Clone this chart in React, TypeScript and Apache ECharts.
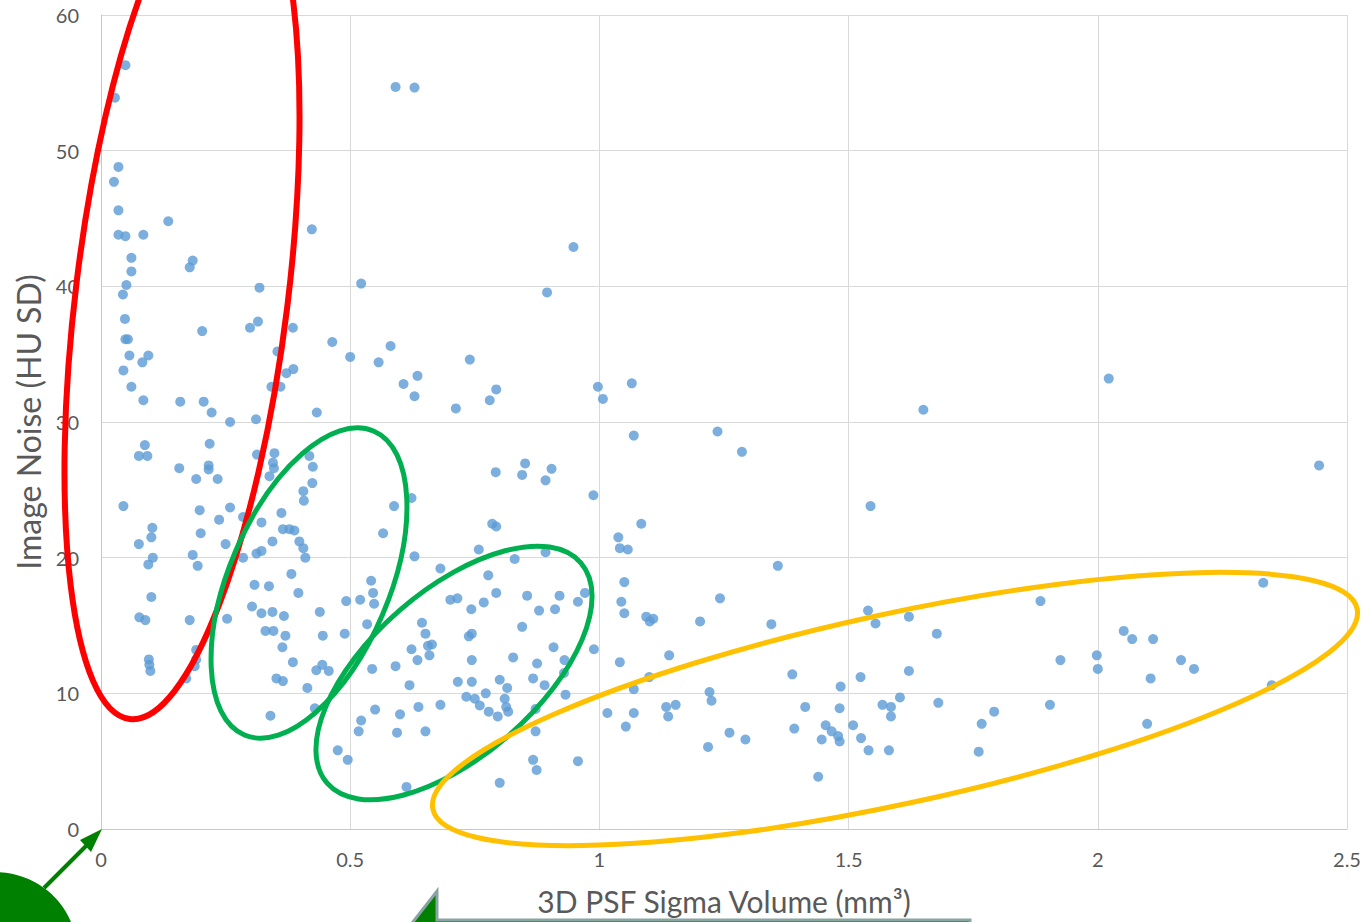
import React, { useEffect, useRef } from "react";
import * as echarts from "echarts";

// 3D PSF sigma volume (mm³) per measurement
const sigmaVolume: number[] = [
  0.049, 0.028, 0.035, 0.026, 0.035, 0.035, 0.049, 0.085, 0.135, 0.061,
  0.061, 0.178, 0.184, 0.051, 0.044, 0.318, 0.423,
  0.048, 0.049, 0.054, 0.203, 0.299, 0.315, 0.385, 0.057, 0.083, 0.095,
  0.045, 0.061, 0.085, 0.159, 0.206, 0.222, 0.259, 0.311, 0.354, 0.372,
  0.386, 0.342, 0.36, 0.464, 0.5, 0.433, 0.045, 0.076, 0.093, 0.088,
  0.157, 0.191, 0.216, 0.216, 0.218, 0.234, 0.313, 0.348, 0.345, 0.347,
  0.338, 0.418, 0.425, 0.424, 0.406, 0.407, 0.198, 0.259, 0.237, 0.285,
  0.322, 0.362, 0.365, 0.378, 0.388, 0.103, 0.101, 0.076, 0.2, 0.25,
  0.344, 0.398, 0.406, 0.41, 0.312, 0.322, 0.285, 0.184, 0.194, 0.104,
  0.095, 0.382,
  0.101, 0.077, 0.089, 0.178, 0.253, 0.096, 0.097, 0.099, 0.191, 0.191,
  0.188, 0.171, 0.308, 0.337, 0.396, 0.303, 0.322, 0.344, 0.367, 0.439,
  0.492, 0.33, 0.346, 0.37, 0.445, 0.489, 0.364, 0.385, 0.432, 0.444,
  0.457, 0.352, 0.365, 0.414, 0.34, 0.429, 0.475, 0.495,
  0.591, 0.629, 0.948, 0.522, 0.895, 0.557, 0.581, 0.74, 0.607, 0.635,
  0.629, 0.712, 0.78, 0.793, 0.997, 1.007, 1.065, 1.069, 0.792, 0.851,
  0.845, 0.904, 0.892, 0.988, 0.623, 0.588, 0.566, 0.785, 0.793, 1.084,
  1.038, 1.041, 1.057, 0.629, 0.681, 0.758, 0.83, 0.892, 0.777, 0.542,
  1.05,
  0.546, 0.548, 0.52, 0.534, 0.544, 0.591, 0.619, 0.623, 0.635, 0.644,
  0.651, 0.656, 0.664, 0.659, 0.701, 0.715, 0.743, 0.768, 0.793, 0.738,
  0.744, 0.744, 0.716, 0.744, 0.772, 0.733, 0.75, 0.76, 0.8, 0.815,
  0.778, 0.796, 0.81, 0.813, 0.817, 0.827, 0.845, 0.855, 0.879, 0.911,
  0.92, 0.957, 0.971, 0.908, 0.875, 0.867, 0.89, 0.93, 0.929, 0.932,
  0.872, 0.872, 0.867, 0.874, 0.8, 0.957, 0.613, 0.55, 0.522, 0.517,
  0.6, 0.594, 0.637, 0.651, 0.681, 1.044, 1.05, 1.094, 1.108, 1.101,
  0.989, 1.041, 1.14, 1.1, 1.069, 1.016, 1.069, 1.053, 1.134, 1.153,
  1.138,
  1.237, 1.286, 1.65, 1.544, 1.358,
  1.242, 1.202, 1.345, 1.539, 1.554, 1.621, 1.677, 1.387, 1.484, 1.524,
  1.621, 1.221, 1.225, 1.413, 1.482, 1.603, 1.568, 1.585, 1.585, 1.68,
  1.792, 1.767, 1.761, 1.261, 1.293, 1.218, 1.391, 1.454, 1.446, 1.466,
  1.479, 1.482, 1.509, 1.525, 1.54, 1.581, 1.439,
  2.022, 2.444, 2.332, 1.885, 2.052, 2.069, 2.111, 1.925, 1.998, 2.0,
  2.167, 2.193, 2.106, 2.349, 1.904, 2.099,
];

// Image noise (HU SD) for the same measurements
const imageNoise: number[] = [
  56.3, 53.9, 48.8, 47.7, 45.6, 43.8, 43.7, 43.8, 44.8, 42.1,
  41.1, 41.4, 41.9, 40.1, 39.4, 39.9, 44.2,
  37.6, 36.1, 36.1, 36.7, 36.95, 37.4, 36.95, 34.9, 34.4, 34.9,
  33.8, 32.6, 31.6, 31.5, 31.5, 30.7, 30.0, 30.2, 35.2, 33.6,
  33.9, 32.6, 32.6, 35.9, 34.8, 30.7, 23.8, 27.5, 27.5, 28.3,
  26.6, 25.8, 26.8, 26.5, 28.4, 25.8, 27.6, 27.7, 27.0, 26.6,
  26.0, 27.5, 26.7, 25.5, 24.9, 24.2, 23.5, 23.7, 22.8, 23.0,
  22.6, 23.3, 22.1, 22.1, 22.0, 22.2, 21.5, 21.0, 21.8, 21.0,
  21.2, 21.2, 20.7, 20.0, 20.3, 20.5, 20.0, 20.2, 19.4, 20.0,
  19.5, 18.8,
  17.1, 15.6, 15.4, 15.4, 15.5, 12.5, 12.1, 11.65, 13.2, 12.5,
  12.0, 11.1, 18.0, 17.9, 17.4, 16.4, 15.9, 16.0, 15.7, 16.0,
  16.8, 14.6, 14.6, 14.25, 14.25, 14.4, 13.4, 12.3, 11.7, 12.1,
  11.65, 11.1, 10.9, 10.4, 8.35, 8.9, 5.8, 5.1,
  54.7, 54.65, 42.9, 40.2, 39.55, 34.4, 35.6, 34.6, 32.8, 33.4,
  31.9, 31.0, 31.6, 32.4, 32.6, 31.7, 32.85, 29.0, 26.3, 26.95,
  26.1, 26.55, 25.7, 24.6, 24.4, 23.8, 21.8, 22.5, 22.3, 22.5,
  21.5, 20.7, 20.6, 20.1, 19.2, 20.6, 19.9, 20.4, 18.7, 18.3,
  18.2,
  17.4, 16.6, 16.9, 15.1, 11.8, 12.0, 10.6, 13.25, 12.45, 15.2,
  14.4, 13.5, 13.6, 12.8, 16.9, 17.0, 16.2, 16.7, 17.4, 14.2,
  14.4, 12.45, 10.85, 10.85, 10.0, 9.75, 9.6, 9.1, 11.0, 10.4,
  8.65, 8.3, 9.6, 9.0, 8.65, 12.65, 14.9, 17.2, 16.1, 16.2,
  17.2, 16.75, 17.4, 13.4, 12.2, 11.1, 10.6, 12.45, 11.5, 9.9,
  8.85, 7.2, 5.1, 4.35, 3.4, 5.0, 3.1, 8.8, 8.0, 7.2,
  8.45, 7.1, 9.0, 7.2, 9.15, 16.75, 15.9, 15.65, 15.5, 15.3,
  13.25, 12.3, 12.8, 11.2, 10.3, 8.55, 8.55, 7.55, 9.0, 9.15,
  8.3,
  29.3, 27.8, 30.9, 23.8, 19.4,
  17.0, 15.3, 15.1, 16.1, 15.15, 15.65, 14.4, 11.4, 10.5, 11.2,
  11.65, 10.1, 9.45, 9.0, 8.9, 9.7, 9.15, 9.0, 8.3, 9.3,
  8.65, 7.75, 5.7, 7.1, 6.6, 6.05, 7.4, 7.65, 6.6, 7.2,
  6.85, 6.45, 7.65, 6.7, 5.8, 5.8, 3.85,
  33.2, 26.8, 18.15, 16.8, 14.6, 14.0, 14.0, 12.45, 12.8, 11.8,
  12.45, 11.8, 11.1, 10.6, 9.15, 7.75,
];

const xTicks = { min: 0, max: 2.5, interval: 0.5 };
const yTicks = { min: 0, max: 60, interval: 10 };

const xTitle = "3D PSF Sigma Volume (mm³)";
const yTitle = "Image Noise (HU SD)";

const FONT = "Lato, 'Open Sans', sans-serif";
const LABEL = "#595959";

export default function App() {
  const ref = useRef<HTMLDivElement>(null);

  useEffect(() => {
    if (!ref.current) return;
    const chart = echarts.init(ref.current, undefined, { renderer: "svg" });

    const points = sigmaVolume.map((x, i) => [x, imageNoise[i]]);

    // hand-drawn annotation shapes layered over the plot
    const ring = (x: number, y: number, rx: number, ry: number, deg: number, color: string, w: number) => ({
      type: "ellipse",
      x,
      y,
      rotation: (deg * Math.PI) / 180,
      shape: { cx: 0, cy: 0, rx, ry },
      style: { fill: "none", stroke: color, lineWidth: w },
      z: 100,
      silent: true,
    });

    chart.setOption({
      animation: false,
      backgroundColor: "#ffffff",
      grid: { left: 101, right: 18, top: 15, bottom: 93, containLabel: false },
      xAxis: {
        type: "value",
        min: xTicks.min,
        max: xTicks.max,
        interval: xTicks.interval,
        name: xTitle,
        nameLocation: "middle",
        nameGap: 57,
        nameTextStyle: { color: LABEL, fontSize: 30, fontFamily: FONT },
        axisLine: { show: true, lineStyle: { color: "#C8C8C8", width: 1 } },
        axisTick: { show: false },
        axisLabel: { color: LABEL, fontSize: 20, fontFamily: FONT, margin: 20 },
        splitLine: { show: true, lineStyle: { color: "#D9D9D9", width: 1 } },
      },
      yAxis: {
        type: "value",
        min: yTicks.min,
        max: yTicks.max,
        interval: yTicks.interval,
        name: yTitle,
        nameLocation: "middle",
        nameGap: 56,
        nameTextStyle: { color: LABEL, fontSize: 32, fontFamily: FONT },
        axisLine: { show: true, lineStyle: { color: "#C8C8C8", width: 1 } },
        axisTick: { show: false },
        axisLabel: { color: LABEL, fontSize: 20, fontFamily: FONT, margin: 22 },
        splitLine: { show: true, lineStyle: { color: "#D9D9D9", width: 1 } },
      },
      series: [
        {
          type: "scatter",
          data: points,
          symbol: "circle",
          symbolSize: 10,
          itemStyle: { color: "#5B9BD5" },
          z: 2,
        },
      ],
      graphic: {
        elements: [
          ring(182, 294, 106, 428, -7, "#FF0000", 6),
          ring(309, 583, 165, 80, 67, "#00B050", 5),
          ring(454, 673, 168, 83, 41, "#00B050", 5),
          ring(895, 709, 473, 95, 12.25, "#FFC000", 5),
          {
            type: "ellipse",
            shape: { cx: -5, cy: 952, rx: 82, ry: 80 },
            style: { fill: "#008000", stroke: "none" },
            z: 100,
            silent: true,
          },
          {
            type: "line",
            shape: { x1: 44, y1: 888, x2: 90, y2: 842 },
            style: { stroke: "#008000", lineWidth: 4 },
            z: 100,
            silent: true,
          },
          {
            type: "polygon",
            shape: { points: [[102, 829], [80, 840], [91, 852]] },
            style: { fill: "#008000", stroke: "none" },
            z: 100,
            silent: true,
          },
          {
            type: "polygon",
            shape: { points: [[437, 891], [437, 920], [970, 920], [970, 990], [360, 990]] },
            style: { fill: "#008000", stroke: "#8AA3A3", lineWidth: 3 },
            z: 100,
            silent: true,
          },
        ],
      },
    });

    return () => chart.dispose();
  }, []);

  return (
    <div
      ref={ref}
      style={{ position: "fixed", left: 0, top: 0, width: 1365, height: 922, background: "#fff" }}
    />
  );
}
